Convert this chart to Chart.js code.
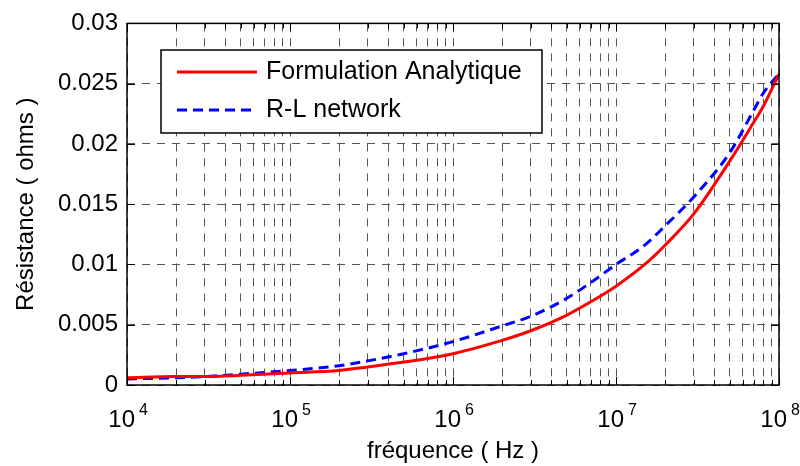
<!DOCTYPE html>
<html>
<head>
<meta charset="utf-8">
<script src="https://cdn.jsdelivr.net/npm/chart.js@4.4.1/dist/chart.umd.min.js"></script>
<style>
  html, body { margin: 0; padding: 0; background: #fff; }
  canvas { display: block; }
</style>
</head>
<body>
<canvas id="chart" width="800" height="466"></canvas>
<script>
// Data
const frequencies = [1e4, 2e4, 3e4, 5e4, 1e5, 2e5, 3e5, 5e5, 1e6, 2e6, 3e6, 5e6, 7e6, 1e7, 1.5e7, 2e7, 3e7, 5e7, 7e7, 8e7, 9e7, 1e8];
const analytique  = [0.0006, 0.0007, 0.0007, 0.0008, 0.0010, 0.0012, 0.0015, 0.0019, 0.0026, 0.0037, 0.0045, 0.0058, 0.0069, 0.0082, 0.0100, 0.0116, 0.0142, 0.0186, 0.0218, 0.0231, 0.0245, 0.0258];
const rlNetwork   = [0.0005, 0.0006, 0.0007, 0.0009, 0.0012, 0.0016, 0.0020, 0.0026, 0.0036, 0.0049, 0.0057, 0.0072, 0.0085, 0.0100, 0.0116, 0.0132, 0.0156, 0.0193, 0.0228, 0.0242, 0.0251, 0.0258];
const xExponents  = [4, 5, 6, 7, 8];
const yTicks      = [0, 0.005, 0.01, 0.015, 0.02, 0.025, 0.03];
const seriesNames = ['Formulation Analytique', 'R-L network'];

const FONT = '"Liberation Sans", Arial, sans-serif';

function toPoints(ys) {
    return frequencies.map((f, i) => ({ x: f, y: ys[i] }));
}

// every 1..9 x 10^n between the first and last decade
function logTicks() {
    const out = [];
    for (let e = xExponents[0]; e < xExponents[xExponents.length - 1]; e++) {
        for (let m = 1; m < 10; m++) out.push({ value: m * Math.pow(10, e) });
    }
    out.push({ value: Math.pow(10, xExponents[xExponents.length - 1]) });
    return out;
}

// box, inward ticks, legend and 10^n labels, MATLAB style
const matlabAxes = {
    id: 'matlabAxes',
    afterDraw(chart) {
        const ctx = chart.ctx;
        const area = chart.chartArea;
        const xs = chart.scales.x, ys = chart.scales.y;
        ctx.save();

        // inward ticks
        ctx.strokeStyle = '#000';
        ctx.lineWidth = 1;
        ctx.setLineDash([]);
        ctx.beginPath();
        logTicks().forEach(t => {
            const px = Math.round(xs.getPixelForValue(t.value)) + 0.5;
            const major = Math.abs(Math.log10(t.value) % 1) < 1e-9;
            const len = major ? 8 : 5;
            ctx.moveTo(px, area.bottom); ctx.lineTo(px, area.bottom - len);
            ctx.moveTo(px, area.top); ctx.lineTo(px, area.top + len);
        });
        yTicks.forEach(v => {
            const py = Math.round(ys.getPixelForValue(v)) + 0.5;
            ctx.moveTo(area.left, py); ctx.lineTo(area.left + 8, py);
            ctx.moveTo(area.right, py); ctx.lineTo(area.right - 8, py);
        });
        ctx.stroke();

        // box
        ctx.lineWidth = 1.5;
        ctx.strokeRect(area.left, area.top, area.right - area.left, area.bottom - area.top);

        // x labels 10^n
        ctx.fillStyle = '#000';
        ctx.textBaseline = 'alphabetic';
        xExponents.forEach(e => {
            const px = xs.getPixelForValue(Math.pow(10, e));
            ctx.font = '24px ' + FONT;
            ctx.textAlign = 'right';
            ctx.fillText('10', px + 8, 427);
            ctx.font = '16px ' + FONT;
            ctx.textAlign = 'left';
            ctx.fillText(String(e), px + 12, 415);
        });

        // legend
        const lx = 161, ly = 50, lw = 381, lh = 83;
        ctx.fillStyle = '#fff';
        ctx.fillRect(lx, ly, lw, lh);
        ctx.lineWidth = 1.5;
        ctx.strokeStyle = '#000';
        ctx.strokeRect(lx, ly, lw, lh);
        const rows = [72, 110];
        chart.data.datasets.forEach((ds, i) => {
            ctx.strokeStyle = ds.borderColor;
            ctx.lineWidth = ds.borderWidth;
            ctx.setLineDash(ds.borderDash || []);
            ctx.beginPath();
            ctx.moveTo(177, rows[i]);
            ctx.lineTo(257, rows[i]);
            ctx.stroke();
            ctx.setLineDash([]);
            ctx.fillStyle = '#000';
            ctx.font = '25px ' + FONT;
            ctx.textAlign = 'left';
            ctx.textBaseline = 'middle';
            ctx.fillText(ds.label, 266, rows[i]);
        });
        ctx.restore();
    }
};

const gridStyle = {
    color: '#555',
    lineWidth: 1,
    drawTicks: false
};

new Chart(document.getElementById('chart'), {
    type: 'line',
    data: {
        datasets: [{
            label: seriesNames[0],
            data: toPoints(analytique),
            borderColor: '#ff0000',
            borderWidth: 3,
            pointRadius: 0,
            fill: false,
            cubicInterpolationMode: 'monotone'
        }, {
            label: seriesNames[1],
            data: toPoints(rlNetwork),
            borderColor: '#0000ff',
            borderWidth: 3,
            borderDash: [10, 6],
            pointRadius: 0,
            fill: false,
            cubicInterpolationMode: 'monotone'
        }]
    },
    options: {
        responsive: false,
        devicePixelRatio: 1,
        animation: false,
        layout: { padding: { top: 20, right: 21, left: 0, bottom: 0 } },
        plugins: {
            legend: { display: false },
            tooltip: { enabled: false }
        },
        scales: {
            x: {
                type: 'logarithmic',
                min: 1e4,
                max: 1e8,
                afterBuildTicks: scale => { scale.ticks = logTicks(); },
                afterFit: scale => { scale.height = 81; },
                ticks: { display: false, autoSkip: false },
                grid: gridStyle,
                border: { display: false, dash: [8, 7] },
                title: {
                    display: true,
                    text: 'fréquence ( Hz )',
                    color: '#000',
                    font: { family: FONT, size: 24 },
                    padding: { top: 0, bottom: 0 }
                }
            },
            y: {
                min: 0,
                max: 0.03,
                afterBuildTicks: scale => { scale.ticks = yTicks.map(v => ({ value: v })); },
                afterFit: scale => { scale.width = 127; },
                ticks: {
                    color: '#000',
                    padding: 9,
                    font: { family: FONT, size: 24 },
                    callback: v => v === 0 ? '0' : String(+v.toFixed(3))
                },
                grid: gridStyle,
                border: { display: false, dash: [8, 7] },
                title: {
                    display: true,
                    text: 'Résistance ( ohms )',
                    color: '#000',
                    font: { family: FONT, size: 24 },
                    padding: { top: 12, bottom: 0 }
                }
            }
        }
    },
    plugins: [matlabAxes]
});
</script>
</body>
</html>
